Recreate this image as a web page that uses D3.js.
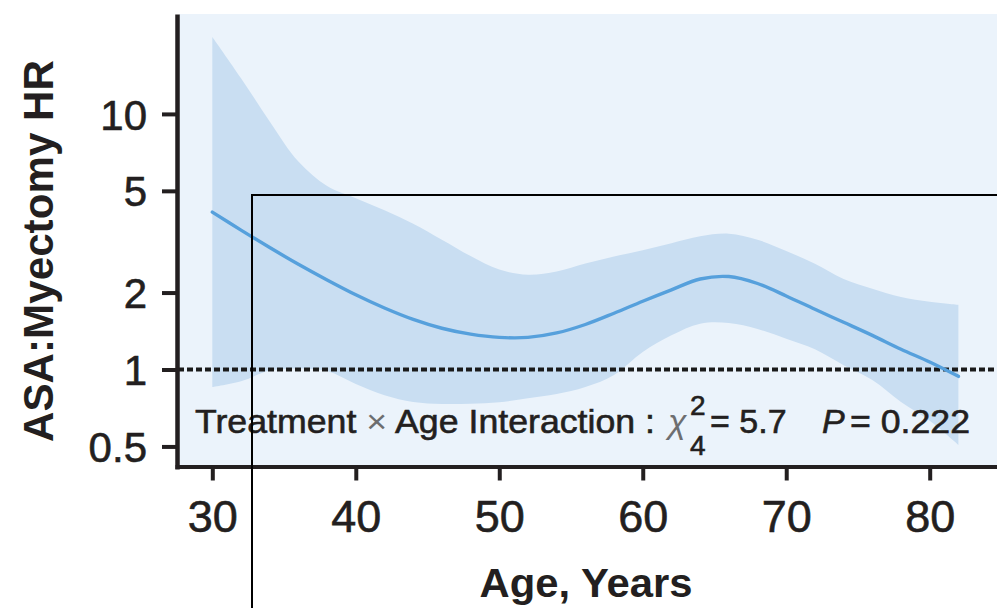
<!DOCTYPE html>
<html>
<head>
<meta charset="utf-8">
<script src="https://cdn.jsdelivr.net/npm/d3@7"></script>
<style>
  html, body { margin: 0; padding: 0; background: #ffffff; }
  svg { display: block; }
  text { font-family: "Liberation Sans", Arial, sans-serif; fill: #231f20; }
  .heavy { stroke: #231f20; stroke-width: 0.6px; }
</style>
</head>
<body>
<svg id="chart" width="997" height="608"></svg>
<script>
// Hazard ratio (ASA vs myectomy) as a smooth function of age, with 95% band
const ages        = [30, 32, 34, 36, 38, 40, 42, 44, 46, 48, 50, 52, 54, 56, 58, 60, 62, 64, 66, 68, 70, 72, 74, 76, 78, 80, 82];
const hrEstimate  = [4.13, 3.51, 3.00, 2.58, 2.24, 1.96, 1.74, 1.57, 1.45, 1.375, 1.335, 1.335, 1.39, 1.50, 1.66, 1.85, 2.05, 2.26, 2.31, 2.17, 1.94, 1.72, 1.53, 1.36, 1.20, 1.07, 0.94];
const hrUpper     = [20.0, 13.8, 9.35, 6.51, 5.22, 4.68, 4.20, 3.72, 3.22, 2.78, 2.46, 2.35, 2.42, 2.60, 2.77, 2.93, 3.12, 3.32, 3.40, 3.22, 2.91, 2.59, 2.26, 2.07, 1.92, 1.84, 1.79];
const hrLower     = [0.854, 0.90, 0.99, 1.01, 0.987, 0.878, 0.793, 0.746, 0.733, 0.735, 0.745, 0.772, 0.802, 0.854, 0.952, 1.17, 1.36, 1.51, 1.52, 1.44, 1.32, 1.20, 1.04, 0.91, 0.746, 0.63, 0.507];
const xTicks      = [30, 40, 50, 60, 70, 80];
const yTicks      = [0.5, 1, 2, 5, 10];
const referenceHR = 1;

const svg = d3.select("#chart");

const x = d3.scaleLinear().domain([27.4, 84.69]).range([175, 997]);
const y = d3.scaleLog().domain([0.408, 24.6]).range([469, 14]);
const smooth = d3.curveCatmullRom.alpha(0.5);

// plot panel
svg.append("rect")
  .attr("x", 179).attr("y", 14)
  .attr("width", 997 - 179).attr("height", 465 - 14)
  .attr("fill", "#ebf3fb");

const rows = ages.map((a, i) => ({ age: a, est: hrEstimate[i], lo: hrLower[i], hi: hrUpper[i] }));

// confidence band
svg.append("path")
  .datum(rows)
  .attr("fill", "#c9def2")
  .attr("d", d3.area()
    .x(d => x(d.age))
    .y0(d => y(d.lo))
    .y1(d => y(d.hi))
    .curve(smooth));

// no-difference reference line
svg.append("line")
  .attr("x1", 178).attr("x2", 997)
  .attr("y1", y(referenceHR)).attr("y2", y(referenceHR))
  .attr("stroke", "#1a1a1a")
  .attr("stroke-width", 4)
  .attr("stroke-dasharray", "6,3");

// fitted hazard ratio
svg.append("path")
  .datum(rows)
  .attr("fill", "none")
  .attr("stroke", "#56a0dc")
  .attr("stroke-width", 3.4)
  .attr("stroke-linecap", "round")
  .attr("d", d3.line()
    .x(d => x(d.age))
    .y(d => y(d.est))
    .curve(smooth));

// axes
const yAxis = svg.append("g")
  .attr("transform", "translate(177,0)")
  .call(d3.axisLeft(y).tickValues(yTicks).tickFormat(d => String(d))
    .tickSize(15).tickSizeOuter(0).tickPadding(15));
yAxis.select(".domain").attr("stroke", "#231f20").attr("stroke-width", 4.5);
yAxis.selectAll(".tick line").attr("stroke", "#231f20").attr("stroke-width", 4);
yAxis.selectAll(".tick text")
  .attr("class", "heavy")
  .attr("font-size", 42)
  .attr("dy", "0.36em")
  .style("font-family", "'Liberation Sans', Arial, sans-serif")
  .attr("fill", "#231f20");

const xAxis = svg.append("g")
  .attr("transform", "translate(0,466.5)")
  .call(d3.axisBottom(x).tickValues(xTicks).tickFormat(d => String(d))
    .tickSize(14).tickSizeOuter(0).tickPadding(20));
xAxis.select(".domain").attr("stroke", "#231f20").attr("stroke-width", 4);
xAxis.selectAll(".tick line").attr("stroke", "#231f20").attr("stroke-width", 4);
xAxis.selectAll(".tick text")
  .attr("class", "heavy")
  .attr("font-size", 45)
  .style("font-family", "'Liberation Sans', Arial, sans-serif")
  .attr("fill", "#231f20");

// axis titles
svg.append("text")
  .attr("transform", "translate(53,251) rotate(-90)")
  .attr("text-anchor", "middle")
  .attr("font-size", 42)
  .attr("font-weight", "bold")
  .attr("textLength", 382)
  .attr("lengthAdjust", "spacingAndGlyphs")
  .text("ASA:Myectomy HR");

svg.append("text")
  .attr("x", 586).attr("y", 597)
  .attr("text-anchor", "middle")
  .attr("font-size", 41)
  .attr("font-weight", "bold")
  .attr("textLength", 213)
  .attr("lengthAdjust", "spacingAndGlyphs")
  .text("Age, Years");

// interaction test annotation
const note = svg.append("g").attr("font-size", 34);
const lead = note.append("text")
  .attr("class", "heavy")
  .attr("x", 195).attr("y", 433)
  .attr("textLength", 460)
  .attr("lengthAdjust", "spacingAndGlyphs");
lead.append("tspan").text("Treatment ");
lead.append("tspan").style("fill", "#6d6e70").style("stroke", "none").text("\u00d7");
lead.append("tspan").text(" Age Interaction :");

note.append("text")
  .attr("x", 668).attr("y", 433)
  .attr("font-style", "italic")
  .style("fill", "#6d6e70")
  .text("\u03c7");
note.append("text")
  .attr("class", "heavy")
  .attr("x", 690).attr("y", 415)
  .attr("font-size", 28)
  .text("2");
note.append("text")
  .attr("class", "heavy")
  .attr("x", 690).attr("y", 455)
  .attr("font-size", 28)
  .text("4");
note.append("text")
  .attr("class", "heavy")
  .attr("x", 710).attr("y", 433)
  .text("= 5.7");
note.append("text")
  .attr("class", "heavy")
  .attr("x", 822).attr("y", 433)
  .attr("font-style", "italic")
  .text("P");
note.append("text")
  .attr("class", "heavy")
  .attr("x", 850).attr("y", 433)
  .attr("textLength", 120)
  .attr("lengthAdjust", "spacingAndGlyphs")
  .text("= 0.222");

// framed detail region
svg.append("rect")
  .attr("x", 252).attr("y", 195)
  .attr("width", 800).attr("height", 480)
  .attr("fill", "none")
  .attr("stroke", "#000000")
  .attr("stroke-width", 2);
</script>
</body>
</html>
